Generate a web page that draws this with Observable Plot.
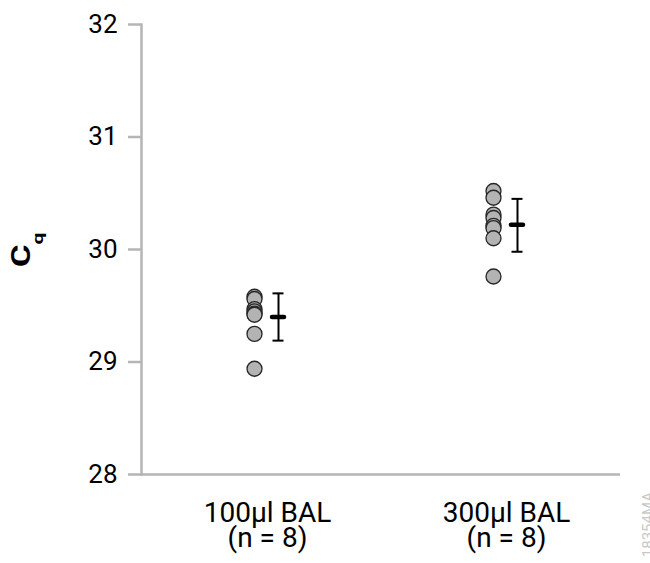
<!DOCTYPE html>
<html>
<head>
<meta charset="utf-8">
<script src="https://cdn.jsdelivr.net/npm/d3@7"></script>
<script src="https://cdn.jsdelivr.net/npm/@observablehq/plot@0.6"></script>
<style>
  html, body { margin: 0; padding: 0; background: #fff; }
  #chart { width: 650px; height: 563px; overflow: hidden; }
</style>
</head>
<body>
<div id="chart"></div>
<script>
// ---- data ----
const groups = ["100µl BAL", "300µl BAL"];
const nLabels = ["(n = 8)", "(n = 8)"];
const cq100 = [29.58, 29.56, 29.47, 29.45, 29.43, 29.42, 29.25, 28.94];
const cq300 = [30.52, 30.46, 30.31, 30.28, 30.21, 30.19, 30.10, 29.76];
const means = [29.40, 30.22];
const errLow = [29.19, 29.98];
const errHigh = [29.61, 30.45];
const yTicks = [28, 29, 30, 31, 32];
const yDomain = [28, 32];
const yLabelMain = "C";
const yLabelSub = "q";
const watermark = "18354MA";

// ---- tables built from the arrays ----
const points = [
  ...cq100.map(v => ({group: groups[0], cq: v})),
  ...cq300.map(v => ({group: groups[1], cq: v}))
];
const summary = groups.map((g, i) => ({group: g, mean: means[i], lo: errLow[i], hi: errHigh[i]}));
const labelOf = new Map(groups.map((g, i) => [g, g + "\n" + nLabels[i]]));

const axisGray = "#b5b5b5";

const chart = Plot.plot({
  width: 650,
  height: 563,
  marginLeft: 141,
  marginRight: 30,
  marginTop: 24,
  marginBottom: 89,
  style: {fontFamily: "Roboto, sans-serif", background: "white", color: "black"},
  x: {type: "band", domain: groups, paddingInner: 1, paddingOuter: 0.498, align: 0.523},
  y: {domain: yDomain},
  marks: [
    Plot.frame({anchor: "left", stroke: axisGray, strokeWidth: 2.5}),
    Plot.ruleY([yDomain[0]], {stroke: axisGray, strokeWidth: 2.5}),
    Plot.axisY({ticks: yTicks, tickSize: 13, tickPadding: 11, fontSize: 26, stroke: axisGray, strokeWidth: 2.5, fill: "black", label: null, tickFormat: d => String(d)}),
    Plot.axisX({tickSize: 0, tickPadding: 29, fontSize: 28, lineHeight: 0.915, fill: "black", label: null, tickFormat: g => labelOf.get(g)}),
    Plot.dot(points, {x: "group", y: "cq", r: 7.5, dx: -13, fill: "#b3b3b3", stroke: "#262626", strokeWidth: 1.3}),
    Plot.ruleX(summary, {x: "group", y1: "lo", y2: "hi", dx: 11, stroke: "black", strokeWidth: 2}),
    Plot.tickY(summary, {x: "group", y: "lo", dx: 11, insetLeft: -5.5, insetRight: -5.5, stroke: "black", strokeWidth: 2}),
    Plot.tickY(summary, {x: "group", y: "hi", dx: 11, insetLeft: -5.5, insetRight: -5.5, stroke: "black", strokeWidth: 2}),
    Plot.tickY(summary, {x: "group", y: "mean", dx: 11, insetLeft: -6, insetRight: -6, stroke: "black", strokeWidth: 4.5, strokeLinecap: "round"})
  ]
});

document.getElementById("chart").appendChild(chart);

// y-axis title with subscript, and the figure code at the right edge
const svg = d3.select(chart);
const t = svg.append("text")
  .attr("transform", "translate(30,250) rotate(-90) scale(1.4,1)")
  .attr("text-anchor", "middle")
  .attr("font-family", "Roboto, sans-serif")
  .attr("font-weight", "bold")
  .attr("font-size", 25)
  .attr("fill", "black");
t.append("tspan").text(yLabelMain);
t.append("tspan").attr("font-size", 15).attr("dy", 13).text(yLabelSub);

svg.append("text")
  .attr("transform", "translate(653,492) rotate(-90)")
  .attr("text-anchor", "end")
  .attr("font-family", "Roboto, sans-serif")
  .attr("font-size", 15)
  .attr("fill", "#c8c8c8")
  .text(watermark);
</script>
</body>
</html>
